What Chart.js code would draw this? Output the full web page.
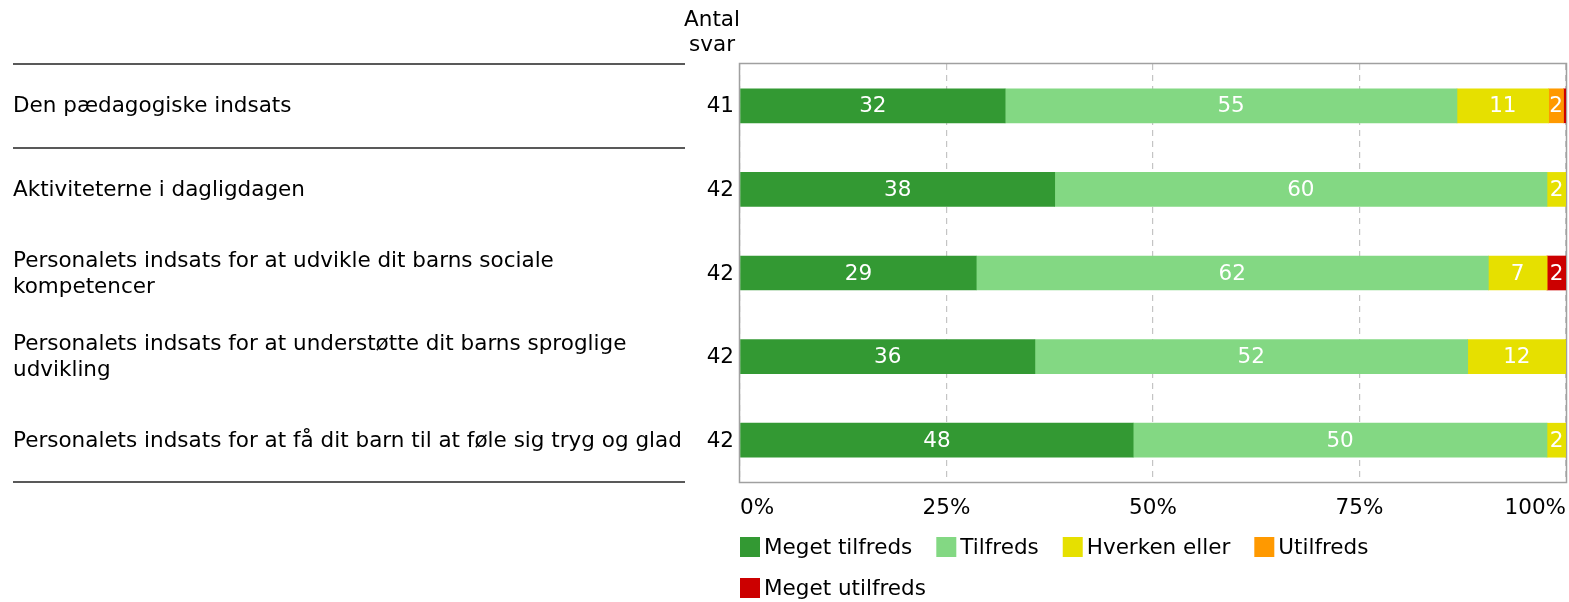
<!DOCTYPE html>
<html>
<head>
<meta charset="utf-8">
<script src="https://cdn.jsdelivr.net/npm/chart.js@4"></script>
<style>
  html, body { margin: 0; padding: 0; background: #fff; }
  #wrap { width: 1569px; height: 602px; position: relative; }
</style>
</head>
<body>
<div id="wrap"><canvas id="chart" width="1569" height="602"></canvas></div>
<script>
// categories and data
const categories = [
  ['Den pædagogiske indsats'],
  ['Aktiviteterne i dagligdagen'],
  ['Personalets indsats for at udvikle dit barns sociale', 'kompetencer'],
  ['Personalets indsats for at understøtte dit barns sproglige', 'udvikling'],
  ['Personalets indsats for at få dit barn til at føle sig tryg og glad']
];
const antalSvar = [41, 42, 42, 42, 42];
const megetTilfreds = [32.1, 38.1, 28.6, 35.7, 47.6];
const tilfreds = [54.7, 59.6, 62.0, 52.4, 50.1];
const hverkenEller = [11.1, 2.3, 7.1, 11.9, 2.3];
const utilfreds = [1.8, 0, 0, 0, 0];
const megetUtilfreds = [0.3, 0, 2.3, 0, 0];
const tickValues = [0, 25, 50, 75, 100];
const tickLabels = ['0%', '25%', '50%', '75%', '100%'];
const separatorsAfter = [0]; // line under first category

const FONT = '21.5px "DejaVu Sans", Verdana, sans-serif';

// draws everything around the bars: labels, counts, ticks, legend
const decorations = {
  id: 'decorations',
  beforeDatasetsDraw(chart) {
    const {ctx, chartArea: a} = chart;
    ctx.save();
    ctx.strokeStyle = '#a0a0a0';
    ctx.lineWidth = 1.5;
    ctx.strokeRect(a.left - 0.5, a.top - 0.5, a.right - a.left + 1, a.bottom - a.top + 1);
    ctx.restore();
  },
  afterDatasetsDraw(chart) {
    const {ctx, chartArea: a, scales: {x, y}} = chart;
    ctx.save();
    ctx.font = FONT;

    // values inside the bars
    ctx.fillStyle = '#fff';
    ctx.textAlign = 'center';
    ctx.textBaseline = 'middle';
    chart.data.datasets.forEach((ds, di) => {
      const meta = chart.getDatasetMeta(di);
      meta.data.forEach((bar, i) => {
        const v = ds.data[i];
        if (v < 1) return;
        ctx.fillText(Math.round(v), (bar.x + bar.base) / 2, bar.y + 1);
      });
    });

    // category labels on the left
    ctx.fillStyle = '#000';
    ctx.textAlign = 'left';
    categories.forEach((lines, i) => {
      const cy = y.getPixelForValue(i);
      const lh = 26;
      const y0 = cy - (lines.length - 1) * lh / 2;
      lines.forEach((t, k) => ctx.fillText(t, 13, y0 + k * lh + 1));
    });

    // antal svar
    ctx.textAlign = 'right';
    antalSvar.forEach((n, i) => ctx.fillText(n, 734, y.getPixelForValue(i) + 1));
    ctx.textAlign = 'center';
    ctx.fillText('Antal', 712, 20);
    ctx.fillText('svar', 712, 45);

    // separator lines
    ctx.strokeStyle = '#222';
    ctx.lineWidth = 1.5;
    const sepYs = [a.top];
    separatorsAfter.forEach(i => sepYs.push((y.getPixelForValue(i) + y.getPixelForValue(i + 1)) / 2));
    sepYs.push(a.bottom);
    sepYs.forEach(sy => {
      ctx.beginPath();
      ctx.moveTo(13, Math.round(sy));
      ctx.lineTo(685, Math.round(sy));
      ctx.stroke();
    });

    // x tick labels
    ctx.fillStyle = '#000';
    tickValues.forEach((v, i) => {
      const px = x.getPixelForValue(v);
      ctx.textAlign = i === 0 ? 'left' : (i === tickValues.length - 1 ? 'right' : 'center');
      ctx.fillText(tickLabels[i], px, a.bottom + 26);
    });

    // legend
    const rowH = 41;
    let lx = a.left, ly = a.bottom + 65;
    chart.data.datasets.forEach(ds => {
      const w = 24 + ctx.measureText(ds.label).width;
      if (lx + w > a.right) { lx = a.left; ly += rowH; }
      ctx.fillStyle = ds.backgroundColor;
      ctx.fillRect(lx, ly - 10, 20, 20);
      ctx.fillStyle = '#000';
      ctx.textAlign = 'left';
      ctx.fillText(ds.label, lx + 24, ly + 1);
      lx += w + 24;
    });
    ctx.restore();
  }
};

const mk = (label, data, color) => ({
  label, data, backgroundColor: color, borderWidth: 0, barThickness: 34
});

new Chart(document.getElementById('chart'), {
  type: 'bar',
  data: {
    labels: categories.map(c => c.join(' ')),
    datasets: [
      mk('Meget tilfreds', megetTilfreds, '#339933'),
      mk('Tilfreds', tilfreds, '#83d883'),
      mk('Hverken eller', hverkenEller, '#e6e000'),
      mk('Utilfreds', utilfreds, '#ff9900'),
      mk('Meget utilfreds', megetUtilfreds, '#cc0000')
    ]
  },
  options: {
    indexAxis: 'y',
    responsive: false,
    animation: false,
    layout: { padding: { left: 740, right: 3, top: 64, bottom: 120 } },
    plugins: { legend: { display: false }, tooltip: { enabled: false } },
    scales: {
      x: {
        stacked: true, min: 0, max: 100,
        afterFit: s => { s.height = 0; },
        ticks: { display: false, stepSize: 25 },
        border: { display: false, dash: [6, 5] },
        grid: { drawTicks: false, color: '#c4c4c4', lineWidth: 1.2 }
      },
      y: { stacked: true, display: false }
    }
  },
  plugins: [decorations]
});
</script>
</body>
</html>
